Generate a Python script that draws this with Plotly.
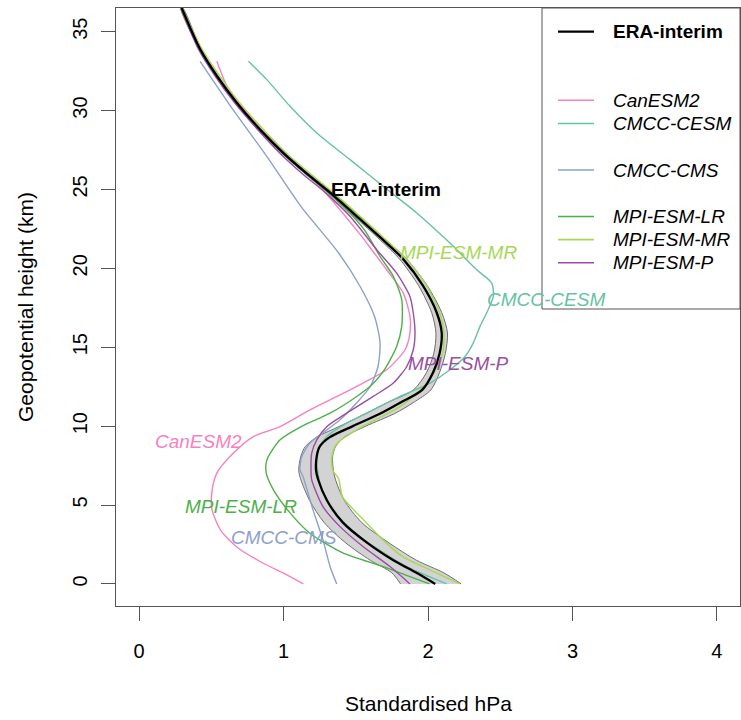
import plotly.graph_objects as go

# ---------------- data ----------------
era_h = [0.0, 0.7, 1.5, 2.6, 3.9, 5.3, 6.6, 7.2, 8.1, 8.7, 9.3, 10.0, 10.8, 11.5, 12.3,
         13.4, 14.6, 15.9, 17.2, 18.9, 20.6, 21.8, 23.3, 24.8, 26.0, 27.3, 28.8, 30.5,
         32.2, 33.9, 36.5]
era_x = [2.05, 1.92, 1.76, 1.58, 1.41, 1.30, 1.24, 1.225, 1.23, 1.25, 1.32, 1.48, 1.67,
         1.81, 1.96, 2.035, 2.08, 2.095, 2.06, 1.965, 1.827, 1.689, 1.507, 1.322, 1.161,
         0.999, 0.837, 0.676, 0.538, 0.422, 0.295]
era_lo = [1.81, 1.75, 1.60, 1.43, 1.28, 1.18, 1.12, 1.105, 1.12, 1.15, 1.23, 1.39, 1.57,
          1.72, 1.90, 1.99, 2.04, 2.055, 2.025, 1.935, 1.802, 1.669, 1.489, 1.307, 1.148,
          0.987, 0.826, 0.666, 0.529, 0.414, 0.288]
era_hi = [2.23, 2.11, 1.92, 1.73, 1.54, 1.42, 1.36, 1.345, 1.34, 1.36, 1.42, 1.57, 1.77,
          1.90, 2.02, 2.08, 2.12, 2.135, 2.095, 1.995, 1.852, 1.709, 1.525, 1.337, 1.174,
          1.011, 0.848, 0.686, 0.547, 0.430, 0.302]

can_h = [0.0, 0.68, 1.31, 2.28, 3.36, 4.69, 5.75, 7.02, 8.29, 9.34, 9.97, 11.03, 11.88,
         12.73, 13.57, 14.84, 15.9, 16.95, 18.43, 19.91, 21.18, 22.26, 25.19, 27.33, 29.23,
         31.33, 33.12]
can_x = [1.137, 0.999, 0.86, 0.685, 0.567, 0.505, 0.503, 0.538, 0.653, 0.791, 0.976, 1.183,
         1.37, 1.55, 1.714, 1.841, 1.875, 1.875, 1.829, 1.714, 1.61, 1.52, 1.25, 0.99,
         0.80, 0.62, 0.538]

cesm_h = [0.0, 1.14, 2.28, 3.42, 4.69, 5.96, 7.23, 8.29, 9.34, 10.19, 11.03, 11.88, 12.73,
          13.57, 14.41, 15.26, 16.32, 17.17, 18.22, 19.07, 19.91, 21.6, 23.51, 25.19, 26.89,
          28.58, 30.27, 31.96, 33.12]
cesm_x = [2.129, 1.841, 1.64, 1.46, 1.336, 1.266, 1.235, 1.23, 1.299, 1.437, 1.621, 1.806,
          2.014, 2.152, 2.256, 2.313, 2.36, 2.406, 2.452, 2.441, 2.337, 2.152, 1.922, 1.691,
          1.46, 1.23, 1.045, 0.884, 0.757]

cms_h = [0.0, 1.1, 2.79, 4.69, 6.8, 7.23, 8.07, 8.94, 9.58, 10.4, 11.48, 12.51, 13.78,
         15.28, 16.95, 18.85, 20.99, 23.93, 27.1, 30.06, 33.12]
cms_x = [1.368, 1.322, 1.273, 1.204, 1.135, 1.114, 1.126, 1.183, 1.273, 1.391, 1.507, 1.60,
         1.654, 1.668, 1.63, 1.53, 1.38, 1.12, 0.884, 0.65, 0.422]

lr_h = [0.0, 0.46, 1.1, 1.97, 3.23, 4.5, 5.96, 7.04, 7.86, 9.13, 9.99, 10.82, 11.88, 12.6,
        13.6, 15.05, 16.32, 18.01, 19.49, 20.76, 22.3, 23.3, 24.8, 26.0, 27.3, 28.8, 30.5,
        32.2, 33.9, 36.5]
lr_x = [2.01, 1.875, 1.69, 1.41, 1.18, 1.045, 0.93, 0.88, 0.885, 0.976, 1.125, 1.322, 1.507,
        1.61, 1.70, 1.783, 1.818, 1.818, 1.76, 1.668, 1.57, 1.48, 1.31, 1.155, 0.995, 0.835,
        0.675, 0.54, 0.425, 0.30]

mr_h = [0.0, 0.9, 1.7, 2.6, 4.1, 5.5, 6.7, 7.2, 8.1, 8.9, 10.0, 11.2, 12.8, 14.6, 15.9,
        17.2, 18.9, 20.6, 21.8, 23.3, 24.8, 27.3, 30.5, 33.9, 36.5]
mr_x = [2.22, 2.01, 1.83, 1.71, 1.55, 1.41, 1.38, 1.34, 1.335, 1.37, 1.55, 1.80, 2.00, 2.10,
        2.11, 2.08, 1.99, 1.85, 1.71, 1.53, 1.345, 1.02, 0.695, 0.435, 0.30]

p_h = [0.0, 1.1, 2.37, 3.63, 4.9, 6.59, 7.23, 8.29, 9.13, 9.97, 10.82, 11.88, 12.73, 13.78,
       14.84, 15.9, 17.17, 18.22, 19.7, 21.18, 23.3, 24.8, 26.0, 27.3, 28.8, 30.5, 32.2,
       33.9, 36.5]
p_x = [1.875, 1.737, 1.55, 1.391, 1.273, 1.195, 1.19, 1.195, 1.23, 1.30, 1.437, 1.621, 1.76,
       1.853, 1.898, 1.91, 1.898, 1.875, 1.783, 1.645, 1.46, 1.29, 1.13, 0.975, 0.82, 0.66,
       0.525, 0.41, 0.29]

model_names = ["CanESM2", "CMCC-CESM", "CMCC-CMS", "MPI-ESM-LR", "MPI-ESM-MR", "MPI-ESM-P"]
model_colors = ["#F781BF", "#66C2A5", "#8DA0CB", "#4DAF4A", "#A6D854", "#984EA3"]
model_h = [can_h, cesm_h, cms_h, lr_h, mr_h, p_h]
model_x = [can_x, cesm_x, cms_x, lr_x, mr_x, p_x]

# in-plot label anchors (data coordinates)
label_pos = {"CanESM2": (0.408, 9.0), "CMCC-CESM": (2.817, 18.0), "CMCC-CMS": (1.003, 2.92),
             "MPI-ESM-LR": (0.706, 4.88), "MPI-ESM-MR": (2.208, 21.0),
             "MPI-ESM-P": (2.208, 13.95)}
era_label_pos = (1.71, 24.98)

x_ticks = [0, 1, 2, 3, 4]
y_ticks = [0, 5, 10, 15, 20, 25, 30, 35]

# ---------------- figure ----------------
W, H = 741, 720
ML, MR, MT, MB = 116, 1, 8, 114
FONT = "Liberation Sans, Arial, Helvetica, sans-serif"

fig = go.Figure()

# ERA-interim spread band
fig.add_trace(go.Scatter(
    x=era_lo + era_hi[::-1], y=era_h + era_h[::-1], mode="lines", fill="toself",
    fillcolor="#D3D3D3", line=dict(color="#6E6E6E", width=1, shape="spline", smoothing=0.8),
    hoverinfo="skip", showlegend=False))

for name, col, hh, xx in zip(model_names, model_colors, model_h, model_x):
    fig.add_trace(go.Scatter(x=xx, y=hh, mode="lines", name=name,
                             line=dict(color=col, width=1.4, shape="spline", smoothing=0.7),
                             showlegend=False))

fig.add_trace(go.Scatter(x=era_x, y=era_h, mode="lines", name="ERA-interim",
                         line=dict(color="black", width=2.3, shape="spline", smoothing=0.8),
                         showlegend=False))

annotations = []
for name, col in zip(model_names, model_colors):
    lx, ly = label_pos[name]
    annotations.append(dict(x=lx, y=ly, xref="x", yref="y", text="<i>%s</i>" % name,
                            showarrow=False, font=dict(family=FONT, size=19, color=col),
                            xanchor="center", yanchor="middle"))
annotations.append(dict(x=era_label_pos[0], y=era_label_pos[1], xref="x", yref="y",
                        text="<b>ERA-interim</b>", showarrow=False,
                        font=dict(family=FONT, size=19, color="black"),
                        xanchor="center", yanchor="middle"))

# ---- legend box (drawn in paper coordinates from pixel layout) ----
PW, PH = W - ML - MR, H - MT - MB


def px2paper(px, py):
    return (px - ML) / PW, (H - MB - py) / PH


shapes = []
bx0, by0 = px2paper(542, 309)
bx1, by1 = px2paper(740, 8)
shapes.append(dict(type="rect", xref="paper", yref="paper", x0=bx0, y0=by0, x1=bx1, y1=by1,
                   line=dict(color="#555555", width=1), fillcolor="white", layer="above"))

leg_entries = [("ERA-interim", "black", 31.7, True)]
leg_rows = [100.3, 123.5, 170.0, 216.5, 239.6, 262.8]
for name, col, ry in zip(model_names, model_colors, leg_rows):
    leg_entries.append((name, col, ry, False))

for name, col, ry, bold in leg_entries:
    x0, y0 = px2paper(558, ry)
    x1, _ = px2paper(594, ry)
    shapes.append(dict(type="line", xref="paper", yref="paper", x0=x0, y0=y0, x1=x1, y1=y0,
                       line=dict(color=col, width=2.3 if bold else 1.6), layer="above"))
    tx, ty = px2paper(611, ry)
    annotations.append(dict(x=tx, y=ty, xref="paper", yref="paper",
                            text=("<b>%s</b>" % name) if bold else ("<i>%s</i>" % name),
                            showarrow=False, xanchor="left", yanchor="middle",
                            font=dict(family=FONT, size=19, color="black")))

# axis titles
annotations.append(dict(x=0.5, y=0, xref="paper", yref="paper", text="Standardised hPa",
                        showarrow=False, yshift=-97, xanchor="center", yanchor="middle",
                        font=dict(family=FONT, size=21, color="black")))
annotations.append(dict(x=0, y=0.5, xref="paper", yref="paper",
                        text="Geopotential height (km)", showarrow=False, xshift=-91,
                        textangle=-90, xanchor="center", yanchor="middle",
                        font=dict(family=FONT, size=21, color="black")))

axis_common = dict(showgrid=False, zeroline=False, showline=True, mirror=True,
                   linecolor="#555555", linewidth=1, ticks="outside", ticklen=14,
                   tickcolor="#555555", tickwidth=1,
                   tickfont=dict(family=FONT, size=20, color="black"))

fig.update_layout(
    width=W, height=H, margin=dict(l=ML, r=MR, t=MT, b=MB, pad=0),
    paper_bgcolor="white", plot_bgcolor="white", showlegend=False,
    xaxis=dict(range=[-0.16, 4.16], tickvals=x_ticks, ticktext=[str(v) for v in x_ticks],
               ticklabelstandoff=13, **axis_common),
    yaxis=dict(range=[-1.4, 36.5], tickvals=y_ticks, ticktext=[str(v) for v in y_ticks],
               tickangle=-90, ticklabelstandoff=6, **axis_common),
    annotations=annotations, shapes=shapes,
)

fig.write_html("out.html")
